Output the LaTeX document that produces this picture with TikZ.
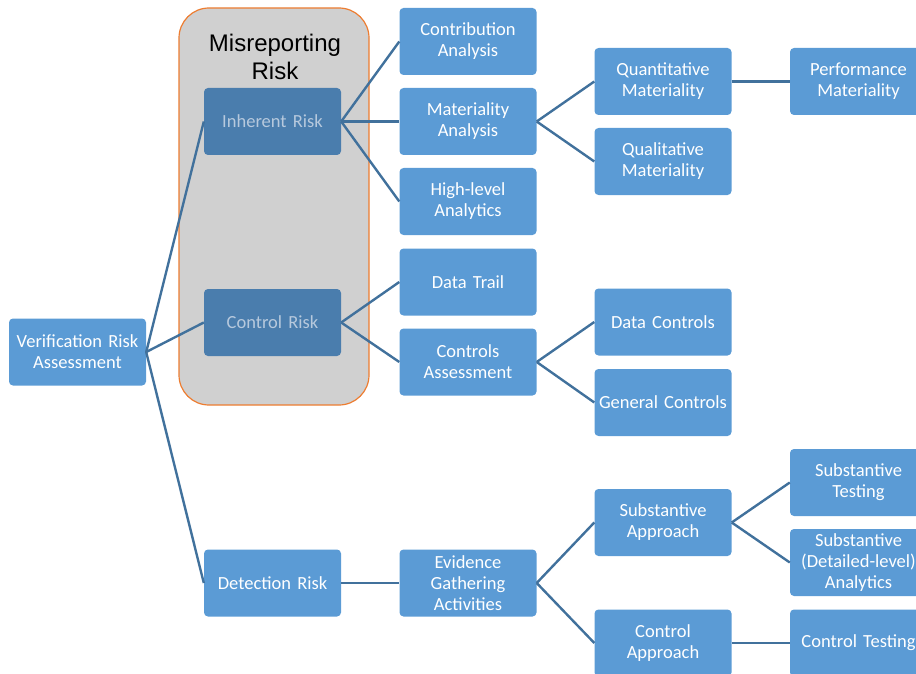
\documentclass[tikz,border=0pt]{standalone}
\usepackage{fontspec}
\setmainfont{Carlito}
\newfontfamily\titlefont{Liberation Sans}
\definecolor{boxblue}{HTML}{5B9BD5}
\definecolor{darkbox}{HTML}{4A7DAD}
\definecolor{darktext}{HTML}{B7C9DD}
\definecolor{linkblue}{HTML}{41719C}
\definecolor{groupgray}{HTML}{D0D0D0}
\definecolor{grouporange}{HTML}{ED7D31}
\tikzset{
  box/.style={draw=none, fill=boxblue, rounded corners=4pt, minimum width=137pt,
    minimum height=67pt, text width=134pt, align=center, text=white,
    font=\fontsize{18.5}{21}\selectfont, inner sep=0pt},
  riskbox/.style={box, fill=darkbox, text=darktext},
  link/.style={draw=linkblue, line width=2.4pt}
}
\begin{document}
\begin{tikzpicture}[x=1pt, y=-1pt]
\useasboundingbox (0,0) rectangle (916,674);
\clip (0,0) rectangle (916,674);

% grouping panel for the misreporting risk components
\draw[fill=groupgray, draw=grouporange, line width=1.2pt, rounded corners=30pt]
  (179,8) rectangle (369,405);
\node[font=\titlefont\fontsize{24}{28}\selectfont, align=center] (mtitle) at (275,57)
  {Misreporting\\Risk};

% level 1
\node[box] (vra) at (77.5,352) {Verification Risk\\Assessment};

% level 2
\node[riskbox] (ir) at (272.5,121.5) {Inherent Risk};
\node[riskbox] (cr) at (272.5,322.5) {Control Risk};
\node[box] (dr) at (272.5,583) {Detection Risk};

% level 3
\node[box] (ca) at (468,41.5) {Contribution\\Analysis};
\node[box] (ma) at (468,121.5) {Materiality\\Analysis};
\node[box] (ha) at (468,201.5) {High-level\\Analytics};
\node[box] (dt) at (468,282) {Data Trail};
\node[box] (cas) at (468,362) {Controls\\Assessment};
\node[box] (eg) at (468,583) {Evidence\\Gathering\\Activities};

% level 4
\node[box] (qm) at (663,81.5) {Quantitative\\Materiality};
\node[box] (qlm) at (663,161.5) {Qualitative\\Materiality};
\node[box] (dc) at (663,322) {Data Controls};
\node[box] (gc) at (663,402.5) {General Controls};
\node[box] (sa) at (663,522.5) {Substantive\\Approach};
\node[box] (cap) at (663,643) {Control\\Approach};

% level 5
\node[box] (pm) at (858.5,81.5) {Performance\\Materiality};
\node[box] (st) at (858.5,482.5) {Substantive\\Testing};
\node[box] (sd) at (858.5,562.5) {Substantive\\(Detailed-level)\\Analytics};
\node[box] (ct) at (858.5,643) {Control Testing};

% connectors
\foreach \a/\b in {vra/ir, vra/cr, vra/dr,
                   ir/ca, ir/ma, ir/ha,
                   cr/dt, cr/cas,
                   dr/eg,
                   ma/qm, ma/qlm,
                   cas/dc, cas/gc,
                   eg/sa, eg/cap,
                   qm/pm,
                   sa/st, sa/sd,
                   cap/ct}
  \draw[link] (\a.east) -- (\b.west);
\end{tikzpicture}
\end{document}
